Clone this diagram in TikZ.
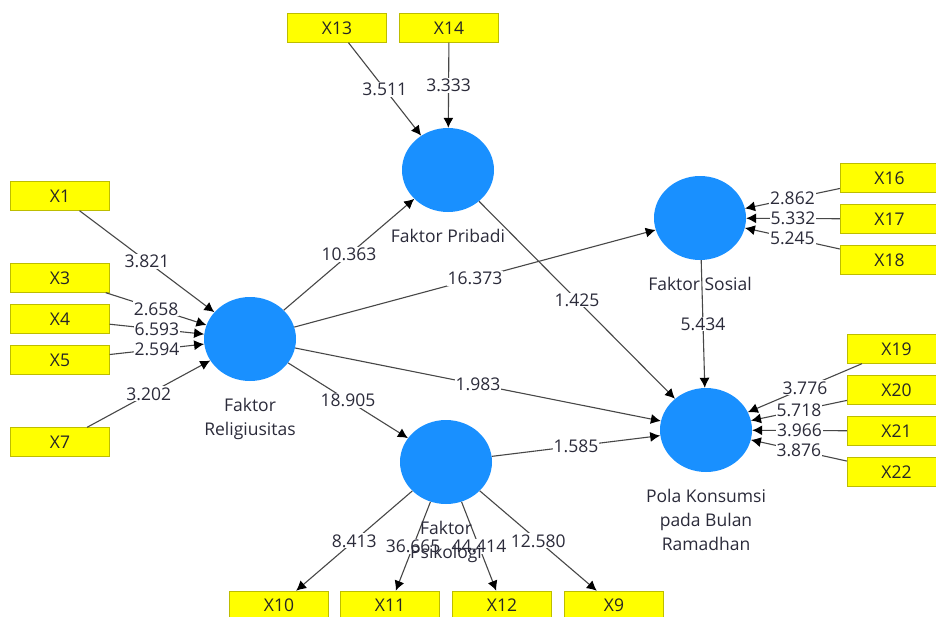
\documentclass[tikz,border=0pt]{standalone}
\usepackage{fontspec}
\setmainfont{Open Sans}
\usetikzlibrary{shapes.geometric, arrows.meta, positioning}
\definecolor{lvblue}{HTML}{1990FF}
\definecolor{mvyellow}{HTML}{FFFF00}
\definecolor{mvborder}{HTML}{BDBD00}
\definecolor{linegray}{HTML}{474747}
\definecolor{textdark}{HTML}{2B2B3A}
\tikzset{
  latent/.style={ellipse, fill=lvblue, minimum width=92pt, minimum height=84pt, inner sep=0pt},
  lvlabel/.style={align=center, text=textdark, inner sep=0pt},
  indicator/.style={draw=mvborder, fill=mvyellow, minimum width=99pt, minimum height=29pt,
                    inner sep=0pt, text=black!85},
  link/.style={draw=linegray, line width=1.1pt, -{Latex[length=10pt,width=10pt,black]}},
  coef/.style={midway, fill=white, inner sep=1pt, text=textdark}
}

\begin{document}
\begin{tikzpicture}[x=1pt, y=-1pt, font=\fontsize{17.5}{24}\selectfont]
  \useasboundingbox[fill=white] (0,0) rectangle (936,616);

  % latent variables
  \node[latent] (relig) at (250,339) {};
  \node[latent] (pribadi) at (448,170) {};
  \node[latent] (sosial) at (700,218) {};
  \node[latent] (pola) at (706,430) {};
  \node[latent] (psiko) at (446,462) {};

  % indicators
  \node[indicator] (x1) at (60,196) {X1};
  \node[indicator] (x3) at (60,278) {X3};
  \node[indicator] (x4) at (60,319) {X4};
  \node[indicator] (x5) at (60,360) {X5};
  \node[indicator] (x7) at (60,442) {X7};
  \node[indicator] (x13) at (337,28) {X13};
  \node[indicator] (x14) at (449,28) {X14};
  \node[indicator] (x16) at (889.5,178) {X16};
  \node[indicator] (x17) at (889.5,219) {X17};
  \node[indicator] (x18) at (889.5,260) {X18};
  \node[indicator] (x19) at (896.5,349) {X19};
  \node[indicator] (x20) at (896.5,390) {X20};
  \node[indicator] (x21) at (896.5,431) {X21};
  \node[indicator] (x22) at (896.5,472) {X22};
  \node[indicator] (x10) at (279,605.5) {X10};
  \node[indicator] (x11) at (390,605.5) {X11};
  \node[indicator] (x12) at (502,605.5) {X12};
  \node[indicator] (x9) at (614,605.5) {X9};

  % outer weights / loadings
  \draw[link] (x1) -- node[coef] {3.821} (relig);
  \draw[link] (x3) -- node[coef] {2.658} (relig);
  \draw[link] (x4) -- node[coef] {6.593} (relig);
  \draw[link] (x5) -- node[coef] {2.594} (relig);
  \draw[link] (x7) -- node[coef] {3.202} (relig);
  \draw[link] (x13) -- node[coef] {3.511} (pribadi);
  \draw[link] (x14) -- node[coef] {3.333} (pribadi);
  \draw[link] (x16) -- node[coef] {2.862} (sosial);
  \draw[link] (x17) -- node[coef] {5.332} (sosial);
  \draw[link] (x18) -- node[coef] {5.245} (sosial);
  \draw[link] (x19) -- node[coef] {3.776} (pola);
  \draw[link] (x20) -- node[coef] {5.718} (pola);
  \draw[link] (x21) -- node[coef] {3.966} (pola);
  \draw[link] (x22) -- node[coef] {3.876} (pola);
  \draw[link] (psiko) -- node[coef] {8.413} (x10);
  \draw[link] (psiko) -- node[coef] {36.665} (x11);
  \draw[link] (psiko) -- node[coef] {44.414} (x12);
  \draw[link] (psiko) -- node[coef] {12.580} (x9);

  % inner model
  \draw[link] (relig) -- node[coef] {10.363} (pribadi);
  \draw[link] (relig) -- node[coef] {16.373} (sosial);
  \draw[link] (relig) -- node[coef] {1.983} (pola);
  \draw[link] (relig) -- node[coef] {18.905} (psiko);
  \draw[link] (pribadi) -- node[coef] {1.425} (pola);
  \draw[link] (sosial) -- node[coef] {5.434} (pola);
  \draw[link] (psiko) -- node[coef] {1.585} (pola);

  % construct names, over the lines
  \node[lvlabel, below=17pt of relig] (religname) {Faktor\\Religiusitas};
  \node[lvlabel, below=17pt of pribadi] (pribadiname) {Faktor Pribadi};
  \node[lvlabel, below=17pt of sosial] (sosialname) {Faktor Sosial};
  \node[lvlabel, below=17pt of pola] (polaname) {Pola Konsumsi\\pada Bulan\\Ramadhan};
  \node[lvlabel, below=17pt of psiko] (psikoname) {Faktor\\Psikologi};
\end{tikzpicture}
\end{document}
